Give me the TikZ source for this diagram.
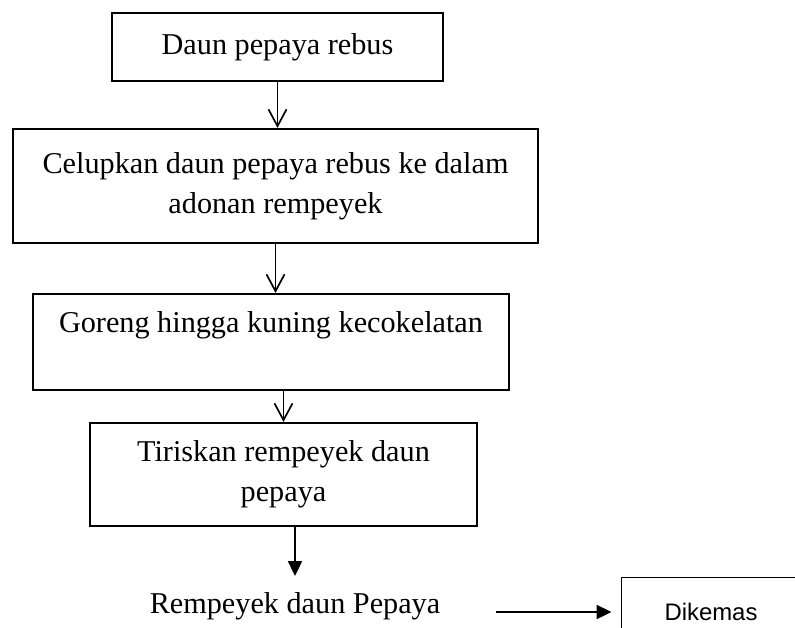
\documentclass[tikz,border=0pt]{standalone}
\usepackage{fontspec}
\setmainfont{Liberation Serif}
\newfontfamily\kemasfont{Liberation Sans}
\usepackage{tikz}
\usetikzlibrary{arrows.meta}

\begin{document}
\begin{tikzpicture}[x=0.025cm, y=-0.025cm,
    langkah/.style={draw, line width=1.5pt, align=center, inner sep=0pt, font=\fontsize{21.5}{28.5}\selectfont},
    panah/.style={line width=1.2pt, -{Straight Barb[length=0.42cm, width=0.45cm]}},
    panahpenuh/.style={line width=1.2pt, -{Triangle[length=0.37cm, width=0.35cm]}}]
    \useasboundingbox (0,0) rectangle (795,627);
    \clip (0,0) rectangle (795,627);
    \node[langkah, minimum width=8.275cm, minimum height=1.7cm] (rebus) at (277.5,47) {Daun pepaya rebus};
    \node[langkah, minimum width=13.125cm, minimum height=2.85cm] (celup) at (275.5,186) {Celupkan daun pepaya rebus ke dalam\\adonan rempeyek};
    \node[langkah, minimum width=11.9cm, minimum height=2.4cm] (goreng) at (271,342) {Goreng hingga kuning kecokelatan\\\mbox{}};
    \node[langkah, minimum width=9.675cm, minimum height=2.575cm] (tiris) at (283.5,474.5) {Tiriskan rempeyek daun\\pepaya};
    \node[inner sep=0pt, font=\fontsize{21.5}{28.5}\selectfont] (hasil) at (295,606) {Rempeyek daun Pepaya};
    \node[draw, line width=0.7pt, minimum width=4.45cm, minimum height=1.75cm, font=\kemasfont\fontsize{17}{20}\selectfont] (kemas) at (711,612) {Dikemas};
    \draw[panah] (rebus.south) -- (rebus.south |- celup.north);
    \draw[panah] (celup.south) -- (celup.south |- goreng.north);
    \draw[panah] (tiris.north |- goreng.south) -- (tiris.north);
    \draw[panahpenuh, shorten >=0.4cm] (tiris.south -| hasil.north) -- (hasil.north);
    \draw[panahpenuh, shorten <=1.375cm, shorten >=0.25cm] (hasil.east |- kemas.west) -- (kemas.west);
\end{tikzpicture}
\end{document}
